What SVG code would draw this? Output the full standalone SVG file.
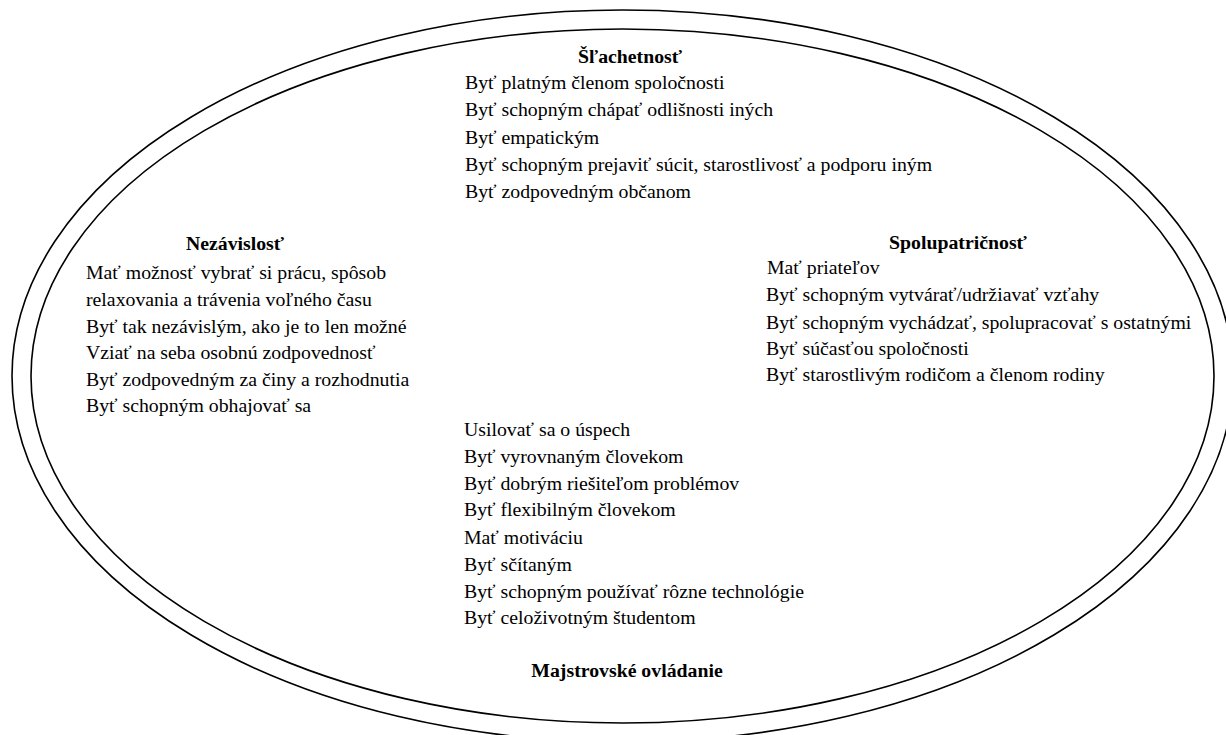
<svg xmlns="http://www.w3.org/2000/svg" width="1226" height="735" viewBox="0 0 1226 735">
<style>
text{font-family:'Liberation Serif','Times New Roman',serif;font-size:19.8px;fill:#000}
.t{font-weight:bold;text-anchor:middle}
.ring{fill:none;stroke:#000;stroke-width:1.6}
</style>
<rect width="1226" height="735" fill="#fff"/>
<g id="ellipses">
<ellipse class="ring" cx="622.5" cy="376" rx="610.5" ry="366"/>
<ellipse class="ring" cx="622.5" cy="376" rx="591.5" ry="347"/>
</g>
<g id="slachetnost">
<text class="t" x="630" y="63">Šľachetnosť</text>
<text x="465" y="89">Byť platným členom spoločnosti</text>
<text x="465" y="116">Byť schopným chápať odlišnosti iných</text>
<text x="465" y="144">Byť empatickým</text>
<text x="465" y="171">Byť schopným prejaviť súcit, starostlivosť a podporu iným</text>
<text x="465" y="198">Byť zodpovedným občanom</text>
</g>
<g id="nezavislost">
<text class="t" x="235" y="250">Nezávislosť</text>
<text x="86" y="279">Mať možnosť vybrať si prácu, spôsob</text>
<text x="86" y="306">relaxovania a trávenia voľného času</text>
<text x="86" y="333">Byť tak nezávislým, ako je to len možné</text>
<text x="86" y="359">Vziať na seba osobnú zodpovednosť</text>
<text x="86" y="386">Byť zodpovedným za činy a rozhodnutia</text>
<text x="86" y="412">Byť schopným obhajovať sa</text>
</g>
<g id="spolupatricnost">
<text class="t" x="958" y="249">Spolupatričnosť</text>
<text x="767" y="274">Mať priateľov</text>
<text x="766" y="301">Byť schopným vytvárať/udržiavať vzťahy</text>
<text x="766" y="329">Byť schopným vychádzať, spolupracovať s ostatnými</text>
<text x="766" y="355">Byť súčasťou spoločnosti</text>
<text x="766" y="381">Byť starostlivým rodičom a členom rodiny</text>
</g>
<g id="majstrovske">
<text x="464" y="436">Usilovať sa o úspech</text>
<text x="464" y="463">Byť vyrovnaným človekom</text>
<text x="464" y="490">Byť dobrým riešiteľom problémov</text>
<text x="464" y="516">Byť flexibilným človekom</text>
<text x="464" y="544">Mať motiváciu</text>
<text x="464" y="571">Byť sčítaným</text>
<text x="464" y="598">Byť schopným používať rôzne technológie</text>
<text x="464" y="624">Byť celoživotným študentom</text>
<text class="t" x="627" y="677">Majstrovské ovládanie</text>
</g>
<g id="connectors"/>
</svg>
